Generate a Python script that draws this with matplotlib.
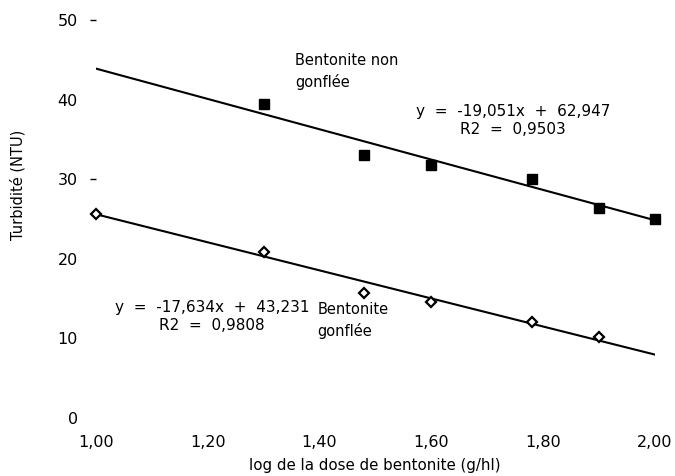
import matplotlib
matplotlib.use('Agg')
import matplotlib.pyplot as plt

# log of bentonite dose (g/hl)
x_non = [1.30, 1.48, 1.60, 1.78, 1.90, 2.00]
y_non = [39.4, 33.0, 31.8, 30.0, 26.4, 25.0]
x_gon = [1.00, 1.30, 1.48, 1.60, 1.78, 1.90]
y_gon = [25.6, 20.9, 15.7, 14.6, 12.1, 10.2]

# regression lines as given on the chart
a_non, b_non = -19.051, 62.947
a_gon, b_gon = -17.634, 43.231

xticks = [1.0, 1.2, 1.4, 1.6, 1.8, 2.0]
xticklabels = ['1,00', '1,20', '1,40', '1,60', '1,80', '2,00']
yticks = [0, 10, 20, 30, 40, 50]

fs = 11.5

fig = plt.figure(figsize=(6.75, 4.76), dpi=100)
ax = fig.add_axes([0.142, 0.122, 0.828, 0.836])

xl = [1.0, 2.0]
ax.plot(xl, [a_non * v + b_non for v in xl], color='black', lw=1.5, zorder=2)
ax.plot(xl, [a_gon * v + b_gon for v in xl], color='black', lw=1.5, zorder=2)
ax.plot(x_non, y_non, 's', color='black', ms=7.5, zorder=3, clip_on=False)
ax.plot(x_gon, y_gon, 'D', mfc='white', mec='black', mew=1.6, ms=5.5,
	zorder=3, clip_on=False)

ax.set_xlim(1.0, 2.0)
ax.set_ylim(0, 50)
for s in ax.spines.values():
	s.set_visible(False)

ax.set_xticks(xticks)
ax.set_xticklabels(xticklabels, fontsize=fs)
ax.set_yticks(yticks)
ax.set_yticklabels([str(v) for v in yticks], fontsize=fs)
ax.tick_params(axis='x', length=0, pad=12)
ax.tick_params(axis='y', length=4, width=1, pad=9)
# only 30 and 50 show a tick mark in the original
for t, v in zip(ax.yaxis.get_major_ticks(), yticks):
	if v not in (30, 50):
		t.tick1line.set_visible(False)

ax.set_ylabel('Turbidité (NTU)', fontsize=10.5)
ax.yaxis.set_label_coords(-0.125, 0.585)
ax.set_xlabel('log de la dose de bentonite (g/hl)', fontsize=10.8, labelpad=6)

ax.text(1.356, 43.5, 'Bentonite non\ngonflée', fontsize=10.5,
	ha='left', va='center', linespacing=1.45)
ax.text(1.746, 37.4, 'y  =  -19,051x  +  62,947\nR2  =  0,9503', fontsize=11,
	ha='center', va='center', linespacing=1.25)
ax.text(1.208, 12.7, 'y  =  -17,634x  +  43,231\nR2  =  0,9808', fontsize=11,
	ha='center', va='center', linespacing=1.25)
ax.text(1.397, 12.2, 'Bentonite\ngonflée', fontsize=10.5,
	ha='left', va='center', linespacing=1.45)

plt.savefig('out.png', dpi=100)
plt.close()
